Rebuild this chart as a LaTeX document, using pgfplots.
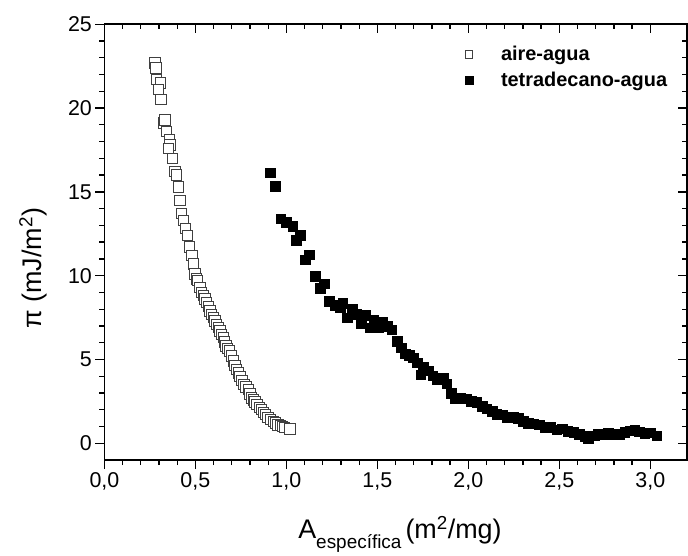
\documentclass[border=0pt]{standalone}
\usepackage{pgfplots}
\pgfplotsset{compat=1.18}
\usepackage{fontspec}
\setmainfont{Liberation Sans}

\pgfplotstableread{
x y
0.278 22.7
0.283 22.4
0.287 21.7
0.309 21.5
0.296 21.1
0.311 20.5
0.324 19.1
0.333 19.3
0.342 18.6
0.357 18.1
0.360 17.8
0.351 17.6
0.373 17.0
0.388 16.2
0.397 16.0
0.406 15.3
0.415 14.5
0.425 13.7
0.434 13.3
0.445 12.8
0.456 12.4
0.467 11.7
0.481 11.2
0.489 10.7
0.498 10.1
0.507 9.8
0.513 9.7
0.525 9.3
0.535 9.0
0.545 8.8
0.553 8.6
0.562 8.4
0.571 8.15
0.580 7.9
0.589 7.7
0.598 7.5
0.607 7.3
0.617 7.1
0.626 6.9
0.635 6.7
0.644 6.5
0.653 6.3
0.660 6.05
0.668 5.8
0.677 5.65
0.686 5.5
0.697 5.2
0.708 4.9
0.717 4.65
0.727 4.4
0.736 4.2
0.745 4.0
0.756 3.75
0.767 3.5
0.779 3.35
0.791 3.2
0.800 2.95
0.809 2.7
0.818 2.58
0.827 2.45
0.839 2.3
0.851 2.15
0.862 2.0
0.873 1.85
0.886 1.7
0.900 1.55
0.914 1.42
0.928 1.3
0.941 1.2
0.955 1.1
0.968 1.05
0.980 1.0
0.990 0.95
1.020 0.86
}\aireagua

\pgfplotstableread{
x y
0.910 16.15
0.937 15.35
0.969 13.4
1.000 13.2
1.035 12.95
1.053 12.1
1.075 12.4
1.102 10.96
1.126 11.25
1.157 9.96
1.185 9.26
1.207 9.52
1.236 8.46
1.267 8.23
1.295 8.09
1.309 8.36
1.335 7.49
1.362 8.03
1.386 7.69
1.410 7.17
1.437 7.63
1.459 6.89
1.481 7.37
1.505 6.89
1.529 7.23
1.555 7.0
1.578 6.77
1.609 6.09
1.630 5.7
1.652 5.34
1.675 5.25
1.697 5.10
1.720 4.8
1.738 4.10
1.752 4.54
1.780 4.34
1.804 4.04
1.830 3.8
1.862 3.91
1.881 3.55
1.905 3.0
1.926 2.65
1.955 2.7
1.990 2.65
2.015 2.5
2.045 2.45
2.075 2.2
2.100 2.05
2.130 1.9
2.155 1.75
2.185 1.7
2.210 1.55
2.245 1.55
2.275 1.5
2.300 1.3
2.330 1.2
2.360 1.16
2.390 1.1
2.420 0.96
2.450 0.96
2.485 0.8
2.515 0.86
2.545 0.72
2.580 0.66
2.610 0.55
2.640 0.42
2.660 0.3
2.690 0.45
2.715 0.56
2.745 0.5
2.770 0.62
2.800 0.55
2.830 0.55
2.860 0.65
2.890 0.75
2.915 0.8
2.940 0.7
2.970 0.6
3.000 0.62
3.035 0.46
}\tetradecano

\begin{document}
\begin{tikzpicture}
\pgfplotsset{
    common/.style={
        scale only axis,
        width=582.3bp, height=435.7bp,
        xmin=0, xmax=3.2, ymin=-1, ymax=25,
        xtick={0,0.5,...,3.0}, ytick={0,5,...,25},
        minor x tick num=4, minor y tick num=4,
        major tick length=9bp, minor tick length=5bp,
        axis line style={line width=1.6bp},
        every tick/.style={black, line width=1.3bp},
    },
}
\begin{axis}[
    common,
    tick align=outside,
    xtick pos=left, ytick pos=left,
    /pgf/number format/assume math mode=true,
    /pgf/number format/use comma,
    xticklabel style={/pgf/number format/fixed, /pgf/number format/fixed zerofill, /pgf/number format/precision=1},
    tick label style={font=\fontsize{21.5}{23}\selectfont},
    xlabel={A\raisebox{-10bp}{\fontsize{19}{20}\selectfont específica}\hspace{0.15em}(m\textsuperscript{2}/mg)},
    ylabel={π (mJ/m\textsuperscript{2})},
    label style={font=\fontsize{27}{29}\selectfont},
    xlabel style={at={(axis description cs:0.5076,-0.181)}, anchor=base},
    ylabel style={at={(axis description cs:-0.1226,0.44)}, anchor=center},
    legend style={draw=none, fill=none, font=\bfseries\fontsize{20}{22}\selectfont,
        at={(axis description cs:0.607,0.959)}, anchor=north west, row sep=6bp},
    legend cell align=left,
    legend image code/.code={
        \path[draw=none, fill=none] (0bp,-3bp) rectangle (38bp,3bp);
        \draw[#1, mark size=3.8bp] plot coordinates {(8bp,0bp)};
    },
]
\addplot[only marks, mark=square*, mark size=5.2bp,
    mark options={fill=white, draw=black!75, line width=1bp}] table {\aireagua};
\addplot[only marks, mark=square*, mark size=4.8bp,
    mark options={fill=black, draw=black}] table {\tetradecano};
\legend{aire-agua, tetradecano-agua}
\end{axis}
\begin{axis}[
    common,
    tick align=inside,
    xtick pos=right, ytick pos=right,
    xticklabels={}, yticklabels={},
]
\end{axis}
\pgfresetboundingbox
\path[use as bounding box] (-104.4bp,-96bp) rectangle (583.6bp,460bp);
\end{tikzpicture}
\end{document}
